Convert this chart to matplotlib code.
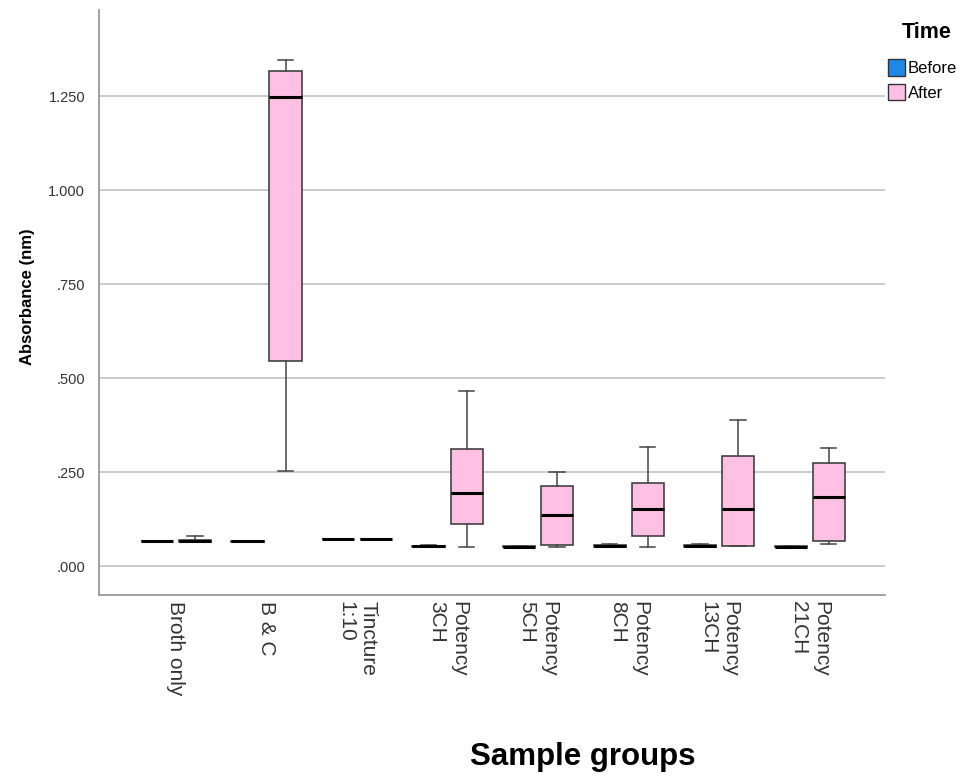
import matplotlib
matplotlib.use("Agg")
import matplotlib.pyplot as plt
from matplotlib.patches import Patch
import numpy as np

plt.rcParams['font.family'] = ['Liberation Sans', 'DejaVu Sans']

# groups on the x axis
groups = ['Broth only', 'B & C', 'Tincture\n1:10', 'Potency\n3CH', 'Potency\n5CH',
          'Potency\n8CH', 'Potency\n13CH', 'Potency\n21CH']

# Before: whisker low, Q1, median, Q3, whisker high
before_lo = [0.066, 0.065, 0.071, 0.052, 0.051, 0.052, 0.052, 0.051]
before_q1 = [0.066, 0.065, 0.071, 0.052, 0.051, 0.052, 0.052, 0.051]
before_med = [0.067, 0.066, 0.072, 0.053, 0.052, 0.053, 0.054, 0.052]
before_q3 = [0.068, 0.067, 0.073, 0.054, 0.053, 0.055, 0.056, 0.053]
before_hi = [0.068, 0.067, 0.073, 0.055, 0.053, 0.060, 0.060, 0.053]

# After
after_lo = [0.063, None, 0.071, 0.052, 0.052, 0.051, 0.053, 0.058]
after_q1 = [0.064, None, 0.071, 0.111, 0.055, 0.080, 0.053, 0.067]
after_med = [0.067, None, 0.072, 0.194, 0.137, 0.151, 0.151, 0.184]
after_q3 = [0.070, None, 0.073, 0.311, 0.214, 0.220, 0.293, 0.275]
after_hi = [0.080, None, 0.073, 0.465, 0.249, 0.317, 0.388, 0.313]

# B & C after box
bc_after = dict(whislo=0.253, q1=0.546, med=1.248, q3=1.317, whishi=1.346)

ticks = [1.25, 1.0, 0.75, 0.5, 0.25, 0.0]
tick_labels = ['1.250', '1.000', '.750', '.500', '.250', '.000']

before_col = '#1e88e5'
after_col = '#ffc0e3'

fig = plt.figure(figsize=(9.66, 7.76), dpi=100)
ax = fig.add_axes([0.1025, 0.2332, 0.8135, 0.7538])

stats_b = []
stats_a = []
for i in range(len(groups)):
    stats_b.append(dict(whislo=before_lo[i], q1=before_q1[i], med=before_med[i],
                        q3=before_q3[i], whishi=before_hi[i], fliers=[]))
    if after_med[i] is None:
        s = dict(bc_after)
    else:
        s = dict(whislo=after_lo[i], q1=after_q1[i], med=after_med[i],
                 q3=after_q3[i], whishi=after_hi[i])
    s['fliers'] = []
    stats_a.append(s)

x = np.arange(len(groups))
off = 0.21
w = 0.355
common = dict(widths=w, patch_artist=True, showfliers=False,
              whiskerprops=dict(color='#444444', lw=1.1),
              capprops=dict(color='#444444', lw=1.1),
              medianprops=dict(color='black', lw=2.2),
              capwidths=0.17, manage_ticks=False)
ax.bxp(stats_b, positions=x - off,
       boxprops=dict(facecolor=before_col, edgecolor='#333333', lw=1.1), **common)
ax.bxp(stats_a, positions=x + off,
       boxprops=dict(facecolor=after_col, edgecolor='#333333', lw=1.1), **common)

ax.set_xlim(-0.85, 7.83)
ax.set_ylim(-0.077, 1.479)
ax.set_yticks(ticks)
ax.set_yticklabels(tick_labels, fontsize=10.5, color='#333333')
ax.yaxis.grid(True, color='#c8c8c8', lw=1.3)
ax.set_axisbelow(True)
ax.tick_params(axis='y', length=0, pad=10)
ax.set_xticks(x)
ax.set_xticklabels(groups, rotation=270, fontsize=15, color='#333333',
                   ha='center', va='top', multialignment='left')
ax.tick_params(axis='x', length=0, pad=4)

for s in ['top', 'right']:
    ax.spines[s].set_visible(False)
for s in ['left', 'bottom']:
    ax.spines[s].set_color('#999999')
    ax.spines[s].set_linewidth(1.3)

ax.set_ylabel('Absorbance (nm)', fontsize=12, fontweight='bold')
ax.yaxis.set_label_coords(-0.081, 0.51)
fig.text(583 / 966, 1 - 757 / 776, 'Sample groups', fontsize=22.5, fontweight='bold',
         ha='center', va='center')

# legend
fig.text(927 / 966, 1 - 32 / 776, 'Time', fontsize=15.5, fontweight='bold',
         ha='center', va='center')
handles = [Patch(facecolor=before_col, edgecolor='#333333', label='Before'),
           Patch(facecolor=after_col, edgecolor='#333333', label='After')]
leg = fig.legend(handles=handles, loc='upper left',
                 bbox_to_anchor=(880 / 966, 1 - 51 / 776), frameon=False,
                 fontsize=12, handlelength=1.0, handleheight=1.15,
                 handletextpad=0.15, labelspacing=0.45, borderpad=0)

fig.savefig('out.png', dpi=100)
